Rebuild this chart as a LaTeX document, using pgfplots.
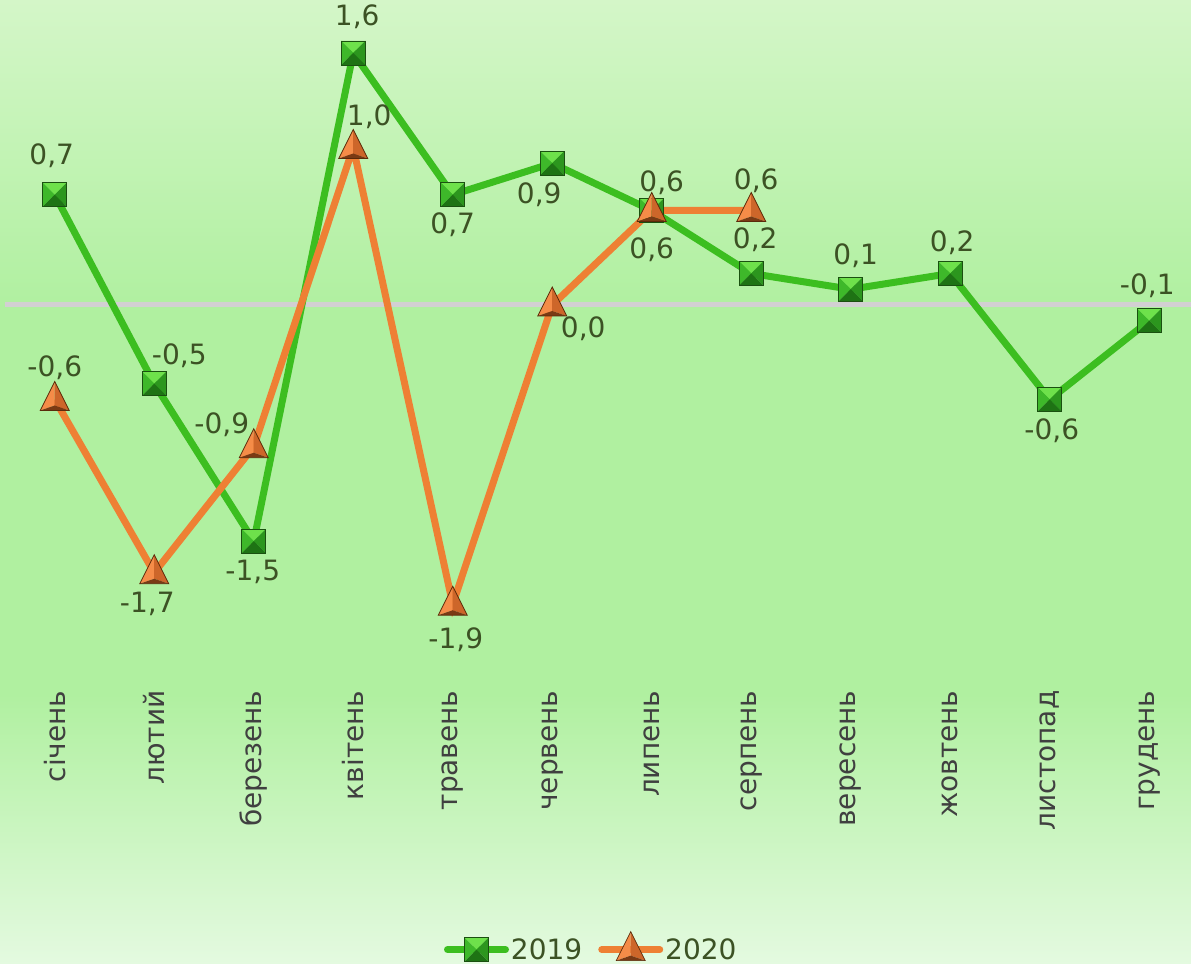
\documentclass[border=0pt]{standalone}
\usepackage{fontspec}
\setmainfont{DejaVu Sans}
\usepackage{pgfplots}
\usepackage{pgfplotstable}
\pgfplotsset{compat=1.18}

\definecolor{bgtop}{RGB}{212,246,200}
\definecolor{bgmid}{RGB}{176,240,160}
\definecolor{bgbot}{RGB}{228,250,224}
\definecolor{cgreen}{RGB}{60,190,32}
\definecolor{corange}{RGB}{238,128,52}
\definecolor{labcol}{RGB}{60,82,36}
\definecolor{tickcol}{RGB}{64,64,64}
\definecolor{zerocol}{RGB}{210,208,210}
\definecolor{sqtop}{RGB}{110,225,75}
\definecolor{sqleft}{RGB}{62,184,42}
\definecolor{sqright}{RGB}{44,150,30}
\definecolor{sqbot}{RGB}{30,115,20}
\definecolor{sqedge}{RGB}{26,80,16}
\definecolor{trleft}{RGB}{245,140,72}
\definecolor{trright}{RGB}{205,102,42}
\definecolor{trbot}{RGB}{122,58,20}
\definecolor{tredge}{RGB}{90,42,10}

\pgfdeclareverticalshading{bgsh}{100bp}{color(0bp)=(bgbot); color(25bp)=(bgbot); color(39bp)=(bgmid); color(59bp)=(bgmid); color(75bp)=(bgtop); color(100bp)=(bgtop)}

\pgfdeclareplotmark{pyrsq}{%
  \pgfsetfillcolor{sqtop}%
  \pgfpathmoveto{\pgfpoint{-12bp}{12bp}}\pgfpathlineto{\pgfpoint{12bp}{12bp}}\pgfpathlineto{\pgfpointorigin}\pgfpathclose\pgfusepath{fill}%
  \pgfsetfillcolor{sqleft}%
  \pgfpathmoveto{\pgfpoint{-12bp}{12bp}}\pgfpathlineto{\pgfpoint{-12bp}{-12bp}}\pgfpathlineto{\pgfpointorigin}\pgfpathclose\pgfusepath{fill}%
  \pgfsetfillcolor{sqright}%
  \pgfpathmoveto{\pgfpoint{12bp}{12bp}}\pgfpathlineto{\pgfpoint{12bp}{-12bp}}\pgfpathlineto{\pgfpointorigin}\pgfpathclose\pgfusepath{fill}%
  \pgfsetfillcolor{sqbot}%
  \pgfpathmoveto{\pgfpoint{-12bp}{-12bp}}\pgfpathlineto{\pgfpoint{12bp}{-12bp}}\pgfpathlineto{\pgfpointorigin}\pgfpathclose\pgfusepath{fill}%
  \pgfsetlinewidth{0.9bp}\pgfsetstrokecolor{sqedge}%
  \pgfpathrectangle{\pgfpoint{-12bp}{-12bp}}{\pgfpoint{24bp}{24bp}}\pgfusepath{stroke}%
}
\pgfdeclareplotmark{pyrtri}{%
  \pgfsetfillcolor{trleft}%
  \pgfpathmoveto{\pgfpoint{0bp}{18bp}}\pgfpathlineto{\pgfpoint{-14.5bp}{-11bp}}\pgfpathlineto{\pgfpoint{0bp}{-6bp}}\pgfpathclose\pgfusepath{fill}%
  \pgfsetfillcolor{trright}%
  \pgfpathmoveto{\pgfpoint{0bp}{18bp}}\pgfpathlineto{\pgfpoint{14.5bp}{-11bp}}\pgfpathlineto{\pgfpoint{0bp}{-6bp}}\pgfpathclose\pgfusepath{fill}%
  \pgfsetfillcolor{trbot}%
  \pgfpathmoveto{\pgfpoint{-14.5bp}{-11bp}}\pgfpathlineto{\pgfpoint{14.5bp}{-11bp}}\pgfpathlineto{\pgfpoint{0bp}{-6bp}}\pgfpathclose\pgfusepath{fill}%
  \pgfsetlinewidth{0.7bp}\pgfsetstrokecolor{tredge}%
  \pgfpathmoveto{\pgfpoint{0bp}{18bp}}\pgfpathlineto{\pgfpoint{-14.5bp}{-11bp}}\pgfpathlineto{\pgfpoint{14.5bp}{-11bp}}\pgfpathclose\pgfusepath{stroke}%
}

\pgfplotstableread{
x y dx dy
0 0.7 -3 39
1 -0.5 25 28
2 -1.5 -1 -31
3 1.6 4 36
4 0.7 0 -30
5 0.9 -13 -31
6 0.6 0 -39
7 0.2 4 34
8 0.1 5 34
9 0.2 2 31
10 -0.6 2 -31
11 -0.1 -2 35
}\dataA
\pgfplotstableread{
x y dx dy
0 -0.6 0 32
1 -1.7 -7 -31
2 -0.9 -32 22
3 1.0 16 31
4 -1.9 3 -35
5 0.0 31 -24
6 0.6 10 28
7 0.6 5 30
}\dataB

\newcommand{\bigf}{\fontsize{28bp}{32bp}\selectfont}

\begin{document}
\begin{tikzpicture}
\path[use as bounding box] (0,0) rectangle (1191bp,964bp);
\clip (0,0) rectangle (1191bp,964bp);
\shade[shading=bgsh] (0,0) rectangle (1191bp,964bp);
\begin{axis}[
  at={(5bp,277bp)}, anchor=south west,
  scale only axis, width=1194bp, height=687bp,
  xmin=-0.5, xmax=11.5, ymin=-2.4254, ymax=1.9365,
  axis line style={draw=none},
  ytick=\empty,
  xtick={0,...,11},
  xticklabels={січень,лютий,березень,квітень,травень,червень,липень,серпень,вересень,жовтень,листопад,грудень},
  major tick length=0pt,
  x tick label style={rotate=90, anchor=east, font=\bigf, text=tickcol},
  clip=false,
  /pgf/number format/fixed,
  /pgf/number format/fixed zerofill,
  /pgf/number format/precision=1,
  /pgf/number format/use comma,
  /pgf/number format/assume math mode=true,
  legend style={draw=none, fill=none, at={(0.4910,-0.3785)}, anchor=center,
    legend columns=2, font=\bigf, text=labcol,
    /tikz/every even column/.append style={column sep=14bp}},
  legend image code/.code={\draw[mark repeat=2,mark phase=2,line cap=round,#1] plot coordinates {(0bp,0bp) (29bp,0bp) (58bp,0bp)};},
]
\addplot[zerocol, line width=5bp, forget plot] coordinates {(-0.5,0) (11.5,0)};
\addplot[cgreen, line width=7bp, mark=pyrsq,
  visualization depends on={\thisrow{dx}\as\labx},
  visualization depends on={\thisrow{dy}\as\laby},
  nodes near coords,
  every node near coord/.append style={anchor=center, xshift=\labx bp, yshift=\laby bp, font=\bigf, text=labcol, inner sep=0pt}]
  table[x=x,y=y] {\dataA};
\addplot[corange, line width=7bp, mark=pyrtri,
  visualization depends on={\thisrow{dx}\as\labx},
  visualization depends on={\thisrow{dy}\as\laby},
  nodes near coords,
  every node near coord/.append style={anchor=center, xshift=\labx bp, yshift=\laby bp, font=\bigf, text=labcol, inner sep=0pt}]
  table[x=x,y=y] {\dataB};
\legend{2019,2020}
\end{axis}
\end{tikzpicture}
\end{document}
